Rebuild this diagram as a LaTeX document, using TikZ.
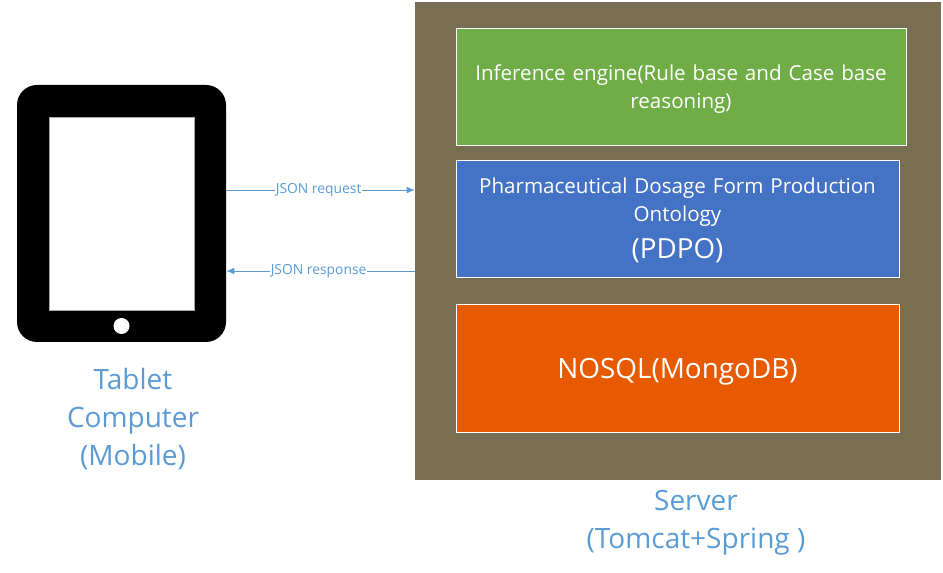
\documentclass[tikz,border=0pt]{standalone}
\usepackage{fontspec}
\setmainfont{Open Sans}
\usetikzlibrary{arrows.meta}
\definecolor{serverBrown}{RGB}{120,111,83}
\definecolor{engineGreen}{RGB}{112,173,71}
\definecolor{ontologyBlue}{RGB}{68,114,196}
\definecolor{dbOrange}{RGB}{232,90,0}
\definecolor{linkBlue}{RGB}{91,155,213}
\tikzset{
  layerbox/.style={draw=white,line width=0.6pt,text=white,align=center,inner sep=0pt,font=\fontsize{15.45}{21.3}\selectfont},
  caption/.style={text=linkBlue,align=center,font=\fontsize{21}{28.5}\selectfont},
  link/.style={draw=linkBlue,line width=0.6pt,-{Latex[length=6pt,width=5pt]}},
  linklabel/.style={fill=white,text=linkBlue,inner sep=0.5pt,font=\fontsize{10.4}{12}\selectfont}
}
\begin{document}
\begin{tikzpicture}[x=0.75pt,y=-0.75pt]
\useasboundingbox (0,0) rectangle (943,573);
% server and its layers
\node[fill=serverBrown,minimum width=394.5pt,minimum height=358.5pt,inner sep=0pt] (server) at (678,241) {};
\node[layerbox,fill=engineGreen,minimum width=337.5pt,minimum height=87.75pt,text width=330pt] (engine) at (681,86.5) {\rule{0pt}{15.5pt}Inference engine(Rule base and Case base\\reasoning)};
\node[layerbox,fill=ontologyBlue,minimum width=332.25pt,minimum height=87.75pt,text width=325pt] (ontology) at (677.5,218.5) {\rule{0pt}{14.5pt}Pharmaceutical Dosage Form Production\\Ontology\\[6.5pt]{\fontsize{20.8}{25}\selectfont (PDPO)}};
\node[layerbox,fill=dbOrange,minimum width=332.25pt,minimum height=96pt,text depth=0pt,font=\fontsize{20.9}{25}\selectfont] (database) at (677.5,368) {NOSQL(MongoDB)};
\node[caption,anchor=north] (servercap) at (696,486) {Server\\(Tomcat+Spring )};
% tablet
\node[fill=black,rounded corners=15pt,minimum width=156.75pt,minimum height=192.75pt,inner sep=0pt] (tablet) at (121.5,213.5) {};
\node[fill=white,draw=black!35,line width=0.3pt,minimum width=108.75pt,minimum height=144.75pt,inner sep=0pt] (screen) at (121.5,213.5) {};
\node[circle,fill=white,minimum size=12pt,inner sep=0pt] (button) at (121.5,326) {};
\node[caption,anchor=north] (tabletcap) at (133,364) {Tablet\\Computer\\(Mobile)};
% messages
\coordinate (requestlevel) at (320,190);
\coordinate (responselevel) at (320,271);
\draw[link] (tablet.east |- requestlevel) -- node[linklabel,pos=0.49] (requestlabel) {JSON request} (server.west |- requestlevel);
\draw[link] (server.west |- responselevel) -- node[linklabel,pos=0.51] (responselabel) {JSON response} (tablet.east |- responselevel);
\end{tikzpicture}
\end{document}
